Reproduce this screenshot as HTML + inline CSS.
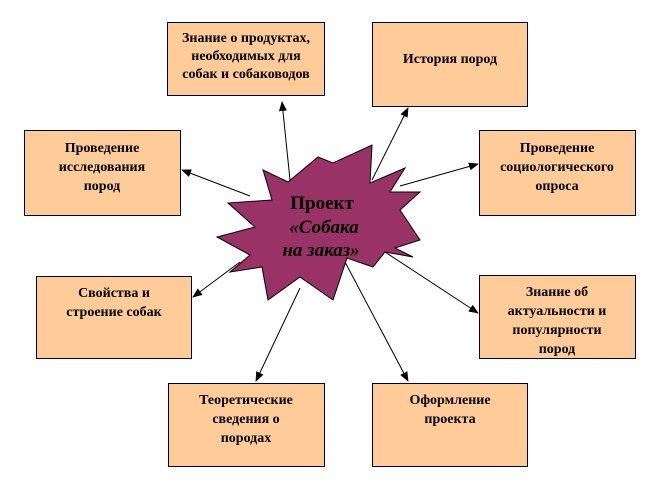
<!DOCTYPE html>
<html><head><meta charset="utf-8"><style>
html,body{margin:0;padding:0;background:#fff;width:648px;height:504px;overflow:hidden}
svg text{font-family:"Liberation Serif","DejaVu Serif",serif;font-weight:bold;font-size:14px;fill:#000}
</style></head><body>
<svg width="648" height="504" viewBox="0 0 648 504" xmlns="http://www.w3.org/2000/svg">
<defs><marker id="a" markerWidth="10" markerHeight="8" refX="9" refY="4" orient="auto" markerUnits="userSpaceOnUse"><path d="M0,0 L10,4 L0,8 z" fill="#000"/></marker></defs>
<g stroke="#000" stroke-width="1" fill="none" marker-end="url(#a)">
<line x1="290" y1="180" x2="282" y2="102"/>
<line x1="372" y1="180" x2="408" y2="108"/>
<line x1="250" y1="196" x2="182" y2="170"/>
<line x1="400" y1="186" x2="478" y2="164"/>
<line x1="240" y1="262" x2="193" y2="297"/>
<line x1="385" y1="252" x2="478" y2="313"/>
<line x1="300" y1="288" x2="256" y2="381"/>
<line x1="345" y1="262" x2="408" y2="381"/>
</g>
<polygon fill="#993366" stroke="#000" stroke-width="1" points="263,170 288,182 318,157 333,163 372,145 370,183 405,168 390,192 420,192 400,210 420,240 395,248 413,257 385,252 373,267 347,258 333,300 300,277 268,300 262,267 230,272 250,255 217,237 255,227 228,203 272,200"/>
<g fill="#FFCC99" stroke="#000" stroke-width="1">
<rect x="167.5" y="22.5" width="157" height="73"/>
<rect x="372.5" y="22.5" width="155" height="84"/>
<rect x="24.5" y="130.5" width="156" height="85"/>
<rect x="479.5" y="130.5" width="156" height="85"/>
<rect x="36.5" y="276.5" width="155" height="82"/>
<rect x="479.5" y="275.5" width="156" height="83"/>
<rect x="168.5" y="383.5" width="156" height="83"/>
<rect x="372.5" y="383.5" width="155" height="83"/>
</g>
<g text-anchor="middle">
<text x="246" y="42">Знание о продуктах,</text>
<text x="246" y="60">необходимых для</text>
<text x="246" y="78">собак и собаководов</text>
<text x="450" y="63">История пород</text>
<text x="102" y="152">Проведение</text>
<text x="102" y="171">исследования</text>
<text x="102" y="190">пород</text>
<text x="557" y="152">Проведение</text>
<text x="557" y="171">социологического</text>
<text x="557" y="190">опроса</text>
<text x="114" y="297">Свойства и</text>
<text x="114" y="316">строение собак</text>
<text x="557" y="296">Знание об</text>
<text x="557" y="315">актуальности и</text>
<text x="557" y="334">популярности</text>
<text x="557" y="353">пород</text>
<text x="246" y="404">Теоретические</text>
<text x="246" y="423">сведения о</text>
<text x="246" y="442">породах</text>
<text x="450" y="404">Оформление</text>
<text x="450" y="423">проекта</text>
<text x="322" y="209" style="font-size:19px">Проект</text>
<text x="324" y="233" style="font-size:19px;font-style:italic">«Собака</text>
<text x="321" y="256" style="font-size:19px;font-style:italic">на заказ»</text>
</g>
</svg>
</body></html>
